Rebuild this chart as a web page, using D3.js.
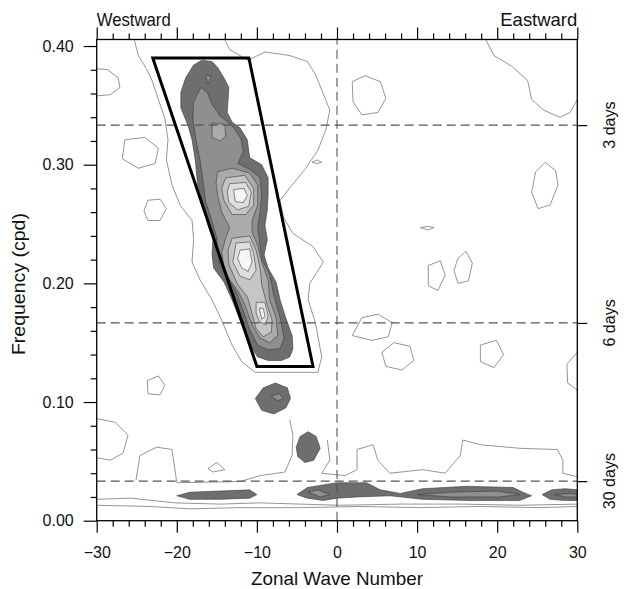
<!DOCTYPE html>
<html><head><meta charset="utf-8">
<script src="https://cdn.jsdelivr.net/npm/d3@7"></script>
<style>
body{margin:0;background:#fff}
svg{display:block}
text{font-family:"Liberation Sans",Arial,Helvetica,sans-serif;fill:#111}
</style></head>
<body><svg id="c" width="626" height="589"></svg>
<script>
// ---------------- data (wavenumber, frequency in cpd) ----------------
const waveTicks = [-30,-20,-10,0,10,20,30];
const waveMinor = d3.range(-30,31,2);
const freqTicks = [0,0.1,0.2,0.3,0.4];
const freqMinor = d3.range(0,0.401,0.02);
const periodDays = [3,6,30];
const periodLabels = ["3 days","6 days","30 days"];
const topLabels = ["Westward","Eastward"];
const filterBox = [[-23,0.39],[-11,0.39],[-3,0.13],[-10,0.13]];

// filled contour levels (closed polygons)
const level1 = [
 [[-16.9,0.388],[-15.6,0.387],[-14.9,0.382],[-14.1,0.373],[-13.5,0.365],[-13.6,0.355],[-13.7,0.344],[-13.1,0.336],[-12.1,0.331],[-11.2,0.321],[-10.9,0.306],[-9.4,0.300],[-8.6,0.289],[-8.6,0.275],[-8.7,0.262],[-9.0,0.249],[-8.7,0.237],[-9.1,0.224],[-8.6,0.213],[-7.6,0.201],[-7.1,0.186],[-6.4,0.171],[-5.6,0.156],[-5.5,0.145],[-5.9,0.138],[-6.9,0.135],[-8.6,0.135],[-9.9,0.138],[-10.9,0.148],[-12.1,0.169],[-13.1,0.186],[-14.1,0.201],[-15.4,0.213],[-15.6,0.224],[-15.5,0.237],[-16.1,0.249],[-16.7,0.266],[-17.4,0.283],[-17.7,0.304],[-18.1,0.321],[-18.6,0.333],[-19.5,0.348],[-19.5,0.361],[-18.9,0.373],[-17.9,0.384]],
 [[-10.2,0.103],[-9.2,0.112],[-7.7,0.116],[-6.2,0.112],[-5.8,0.103],[-6.4,0.095],[-7.9,0.090],[-9.4,0.093]],
 [[-5.1,0.062],[-4.6,0.071],[-3.6,0.075],[-2.6,0.071],[-2.1,0.061],[-2.9,0.051],[-4.0,0.049],[-4.9,0.054]],
 [[-20.0,0.021],[-18.4,0.024],[-14.6,0.025],[-10.9,0.026],[-10.0,0.022],[-10.9,0.019],[-14.6,0.018],[-18.4,0.018]],
 [[-5.0,0.022],[-3.7,0.028],[0,0.032],[1.2,0.032],[3.7,0.032],[5.4,0.026],[7.9,0.023],[10.7,0.027],[16.2,0.029],[22.0,0.028],[23.2,0.024],[24.3,0.021],[22.8,0.017],[16.6,0.017],[10.7,0.018],[6.6,0.021],[2.5,0.020],[0,0.019],[-1.7,0.017],[-3.7,0.019]],
 [[25.6,0.022],[26.8,0.026],[28.5,0.027],[30,0.026],[30,0.017],[28.5,0.017],[26.6,0.018]]
];
const level2 = [
 [[-17.0,0.365],[-16.2,0.361],[-15.6,0.351],[-14.6,0.341],[-13.1,0.333],[-12.0,0.322],[-11.7,0.311],[-12.4,0.301],[-10.9,0.296],[-9.6,0.289],[-9.4,0.275],[-9.6,0.260],[-9.9,0.248],[-9.7,0.237],[-9.4,0.221],[-8.4,0.207],[-7.9,0.190],[-7.1,0.171],[-6.6,0.154],[-7.1,0.145],[-8.6,0.144],[-9.9,0.148],[-10.9,0.161],[-11.7,0.177],[-12.6,0.193],[-13.6,0.205],[-14.6,0.216],[-14.9,0.228],[-15.0,0.238],[-15.6,0.252],[-16.4,0.269],[-16.7,0.285],[-17.1,0.304],[-17.6,0.321],[-18.0,0.338],[-17.9,0.353]],
 [[-16.4,0.375],[-15.7,0.375],[-16.1,0.368]],
 [[-8.2,0.105],[-7.2,0.107],[-6.7,0.103],[-7.4,0.101]],
 [[-3.6,0.024],[-2.4,0.026],[-0.9,0.022],[-2.1,0.020]],
 [[10.0,0.022],[14.1,0.024],[20.0,0.025],[22.8,0.022],[20.3,0.020],[14.1,0.020]],
 [[27.2,0.022],[29.1,0.023],[30,0.022],[30,0.020],[28.5,0.020]]
];
const level3 = [
 [[-15.6,0.335],[-14.0,0.334],[-13.9,0.324],[-14.6,0.320],[-15.6,0.323]],
 [[-14.9,0.294],[-13.1,0.297],[-10.9,0.293],[-9.9,0.283],[-9.9,0.266],[-10.6,0.253],[-10.6,0.243],[-9.9,0.232],[-9.4,0.218],[-8.6,0.203],[-8.4,0.186],[-7.6,0.171],[-7.4,0.156],[-8.4,0.150],[-9.6,0.154],[-10.6,0.165],[-11.5,0.182],[-12.4,0.194],[-13.4,0.203],[-14.1,0.213],[-14.4,0.226],[-13.9,0.238],[-13.4,0.247],[-14.4,0.260],[-14.9,0.274],[-15.1,0.285]]
];
const level4 = [
 [[-13.9,0.289],[-11.5,0.291],[-10.4,0.280],[-10.4,0.266],[-11.4,0.258],[-13.1,0.258],[-14.1,0.270],[-14.4,0.280]],
 [[-13.1,0.238],[-10.9,0.240],[-10.1,0.228],[-9.6,0.213],[-9.4,0.199],[-8.9,0.186],[-8.1,0.169],[-8.2,0.159],[-9.2,0.155],[-10.1,0.162],[-10.7,0.177],[-11.2,0.189],[-12.4,0.199],[-13.5,0.216],[-13.6,0.228]]
];
const level5 = [
 [[-13.4,0.284],[-11.4,0.285],[-10.7,0.277],[-11.0,0.265],[-12.4,0.262],[-13.5,0.268],[-13.7,0.277]],
 [[-12.6,0.234],[-10.9,0.235],[-10.4,0.225],[-10.1,0.211],[-10.9,0.203],[-12.1,0.206],[-13.0,0.218]],
 [[-10.1,0.184],[-9.0,0.184],[-8.6,0.173],[-8.9,0.165],[-9.7,0.168],[-10.1,0.175]]
];
const level6 = [
 [[-12.9,0.279],[-11.6,0.280],[-11.2,0.274],[-11.7,0.268],[-12.7,0.269]],
 [[-12.1,0.228],[-10.9,0.229],[-10.6,0.218],[-11.1,0.210],[-11.9,0.213],[-12.4,0.221]],
 [[-9.7,0.179],[-9.2,0.179],[-9.0,0.172],[-9.4,0.170]]
];
// lowest contour level: open lines and closed loops
const lowOpen = [
 [[-30,0.381],[-28.6,0.380],[-27.3,0.373],[-27.1,0.365],[-28.3,0.359],[-30,0.358]],
 [[-25.3,0.405],[-24.8,0.392],[-23.8,0.381],[-23.1,0.371],[-22.3,0.355],[-21.5,0.339],[-21.1,0.321],[-21.3,0.304],[-20.6,0.283],[-19.6,0.266],[-18.1,0.253],[-17.9,0.237],[-18.1,0.218],[-17.1,0.203],[-15.6,0.186],[-14.4,0.169],[-13.1,0.148],[-11.9,0.134],[-10.2,0.125],[-2.4,0.125],[-1.9,0.138],[-2.7,0.167],[-3.6,0.186],[-3.4,0.200],[-1.7,0.218],[-3.0,0.231],[-5.5,0.242],[-6.7,0.256],[-7.1,0.270],[-5.6,0.283],[-4.0,0.296],[-2.4,0.312],[-1.4,0.329],[-0.9,0.346],[-1.9,0.363],[-2.7,0.376],[-3.7,0.387],[-5.9,0.392],[-9.0,0.395],[-11.1,0.388],[-13.4,0.397],[-14.0,0.405]],
 [[18.6,0.405],[19.6,0.392],[21.8,0.383],[23.8,0.371],[24.3,0.355],[25.8,0.346],[27.8,0.340],[29.1,0.344],[30,0.355]],
 [[30,0.142],[28.7,0.132],[28.8,0.116],[30,0.110]],
 [[-30,0.086],[-27.7,0.083],[-26.1,0.072],[-26.7,0.057],[-28.3,0.051],[-30,0.053]],
 [[-25.1,0.034],[-24.6,0.055],[-22.5,0.062],[-20.6,0.060],[-20.0,0.032],[-12.1,0.033],[-9.6,0.038],[-6.5,0.041],[-5.6,0.055],[-5.5,0.072],[-5.9,0.085]],
 [[-1.2,0.068],[-0.9,0.051],[-1.9,0.040],[1.0,0.038],[2.5,0.043],[2.5,0.060],[4.5,0.064],[5.1,0.051],[6.6,0.040],[10.7,0.043],[13.5,0.040],[15.4,0.055],[15.7,0.068],[17.9,0.064],[22.8,0.061],[27.5,0.060],[28.2,0.051],[28.2,0.040],[30,0.037]],
 [[-30,0.018],[-25.8,0.019],[-20.2,0.015],[-14.6,0.014],[-9.6,0.015],[-4.6,0.014],[0.4,0.013],[7.9,0.014],[15.4,0.014],[22.8,0.013],[30,0.014]],
 [[-30,0.013],[-23.4,0.012],[-18.4,0.010],[-12.1,0.011],[-4.6,0.011],[2.9,0.012],[10.4,0.011],[17.9,0.012],[25.3,0.011],[30,0.012]]
];
const lowClosed = [
 [[1.9,0.370],[3.5,0.375],[5.4,0.370],[6.1,0.356],[5.1,0.344],[3.1,0.342],[2.0,0.353]],
 [[26.0,0.302],[27.3,0.295],[27.6,0.283],[26.6,0.266],[25.1,0.263],[24.3,0.277],[24.8,0.294]],
 [[-3.1,0.302],[-2.5,0.304],[-1.9,0.302],[-2.5,0.301]],
 [[10.4,0.247],[11.4,0.248],[12.1,0.247],[11.4,0.245]],
 [[15.1,0.221],[16.1,0.227],[16.9,0.217],[16.4,0.202],[15.1,0.200],[14.6,0.211]],
 [[11.4,0.215],[12.9,0.219],[13.5,0.207],[12.6,0.194],[11.4,0.198]],
 [[-23.6,0.270],[-22.1,0.271],[-21.3,0.263],[-22.1,0.253],[-23.6,0.253],[-24.1,0.261]],
 [[-23.7,0.118],[-22.3,0.122],[-21.5,0.114],[-22.1,0.106],[-23.6,0.107]],
 [[-16.1,0.044],[-15.0,0.049],[-14.0,0.043],[-15.5,0.041]],
 [[-26.5,0.321],[-24.0,0.323],[-22.3,0.314],[-22.7,0.301],[-24.8,0.297],[-26.8,0.305]],
 [[5.6,0.142],[7.1,0.150],[9.1,0.147],[9.6,0.135],[8.1,0.127],[6.1,0.130]],
 [[17.9,0.148],[19.9,0.152],[20.8,0.140],[19.6,0.129],[17.9,0.134]],
 [[1.9,0.156],[3.1,0.171],[5.1,0.174],[6.9,0.167],[6.4,0.155],[4.4,0.152]]
];
const levelFills = ["#6e6e6e","#8f8f8f","#ababab","#c6c6c6","#dedede","#f6f6f6"];

// ---------------- drawing ----------------
const svg = d3.select("#c");
const x = d3.scaleLinear().domain([-30,30]).range([96.7,577.3]);
const y = d3.scaleLinear().domain([0,0.4055]).range([520.7,39.5]);
const [x0,x1] = x.range(), [y0,y1] = y.range();

svg.append("defs").append("clipPath").attr("id","pc")
  .append("rect").attr("x",x0).attr("y",y1).attr("width",x1-x0).attr("height",y0-y1);
const plot = svg.append("g").attr("clip-path","url(#pc)");

const lineOpen = d3.line().x(d=>x(d[0])).y(d=>y(d[1]));
const lineClosed = d3.line().x(d=>x(d[0])).y(d=>y(d[1])).curve(d3.curveLinearClosed);

[level1,level2,level3,level4,level5,level6].forEach((lev,i)=>{
  plot.append("g").selectAll("path").data(lev).join("path")
    .attr("d",lineClosed).attr("fill",levelFills[i])
    .attr("stroke","#3a3a3a").attr("stroke-width",0.6);
});
plot.append("g").selectAll("path").data(lowOpen).join("path")
  .attr("d",lineOpen).attr("fill","none").attr("stroke","#7a7a7a").attr("stroke-width",0.8);
plot.append("g").selectAll("path").data(lowClosed).join("path")
  .attr("d",lineClosed).attr("fill","none").attr("stroke","#7a7a7a").attr("stroke-width",0.8);

// reference dashed lines
const dash = "9,5";
plot.append("g").selectAll("line").data(periodDays).join("line")
  .attr("x1",x0).attr("x2",x1).attr("y1",d=>y(1/d)).attr("y2",d=>y(1/d))
  .attr("stroke","#555").attr("stroke-width",1.1).attr("stroke-dasharray",dash);
plot.append("line").attr("x1",x(0)).attr("x2",x(0)).attr("y1",y0).attr("y2",y1)
  .attr("stroke","#555").attr("stroke-width",1.1).attr("stroke-dasharray",dash);

// filter box
plot.append("path").datum(filterBox).attr("d",lineClosed)
  .attr("fill","none").attr("stroke","#000").attr("stroke-width",3).attr("stroke-linejoin","miter");

// axes
function styleAxis(g){ g.select(".domain").remove(); g.selectAll("line").attr("stroke","#000").attr("stroke-width",1.2); g.selectAll("text").attr("font-size",16).attr("fill","#111").attr("font-family",'"Liberation Sans",Arial,sans-serif'); }
svg.append("g").attr("transform",`translate(0,${y0})`)
  .call(d3.axisBottom(x).tickValues(waveMinor.filter(v=>v%10!==0)).tickSize(6).tickFormat("")).call(styleAxis);
svg.append("g").attr("transform",`translate(0,${y0})`)
  .call(d3.axisBottom(x).tickValues(waveTicks).tickSize(12).tickPadding(14).tickFormat(d3.format("d"))).call(styleAxis);
svg.append("g").attr("transform",`translate(0,${y1})`)
  .call(d3.axisTop(x).tickValues(waveMinor.filter(v=>v%10!==0)).tickSize(6).tickFormat("")).call(styleAxis);
svg.append("g").attr("transform",`translate(0,${y1})`)
  .call(d3.axisTop(x).tickValues(waveTicks).tickSize(12).tickFormat("")).call(styleAxis);
svg.append("g").attr("transform",`translate(${x0},0)`)
  .call(d3.axisLeft(y).tickValues(freqMinor.filter(v=>Math.abs(v*10-Math.round(v*10))>1e-6)).tickSize(6).tickFormat("")).call(styleAxis);
svg.append("g").attr("transform",`translate(${x0},0)`)
  .call(d3.axisLeft(y).tickValues(freqTicks).tickSize(13).tickPadding(10).tickFormat(d3.format(".2f"))).call(styleAxis);
svg.append("g").attr("transform",`translate(${x1},0)`)
  .call(d3.axisRight(y).tickValues(periodDays.map(d=>1/d)).tickSize(10).tickFormat("")).call(styleAxis);

// frame
svg.append("rect").attr("x",x0).attr("y",y1).attr("width",x1-x0).attr("height",y0-y1)
  .attr("fill","none").attr("stroke","#000").attr("stroke-width",1.3);

// right period labels
svg.append("g").selectAll("text").data(periodDays).join("text")
  .attr("transform",(d)=>`translate(615,${y(1/d)}) rotate(-90)`)
  .attr("text-anchor","middle").attr("font-size",16)
  .text((d,i)=>periodLabels[i]);

// titles
svg.append("text").attr("x",x0).attr("y",26).attr("font-size",18.5).attr("textLength",74).attr("lengthAdjust","spacingAndGlyphs").text(topLabels[0]);
svg.append("text").attr("x",x1).attr("y",26).attr("font-size",18.5).attr("text-anchor","end").attr("textLength",77).attr("lengthAdjust","spacingAndGlyphs").text(topLabels[1]);
svg.append("text").attr("x",x(0)).attr("y",585).attr("font-size",19).attr("text-anchor","middle")
  .attr("textLength",172).attr("lengthAdjust","spacingAndGlyphs").text("Zonal Wave Number");
svg.append("text").attr("transform",`translate(25,${(y0+y1)/2+4}) rotate(-90)`).attr("font-size",19)
  .attr("text-anchor","middle").attr("textLength",142).attr("lengthAdjust","spacingAndGlyphs").text("Frequency (cpd)");
</script></body></html>
